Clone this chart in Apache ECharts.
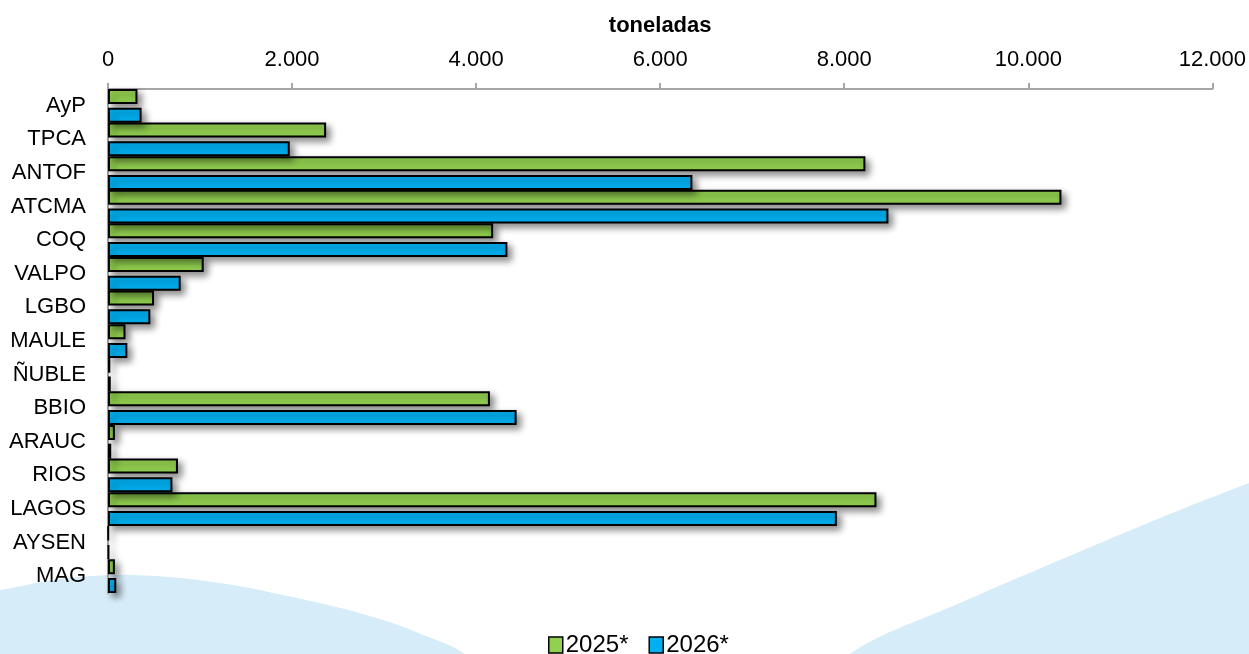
<!DOCTYPE html>
<html>
<head>
<meta charset="utf-8">
<script src="https://cdn.jsdelivr.net/npm/echarts@6/dist/echarts.min.js"></script>
<style>
  html, body { margin: 0; padding: 0; background: #fff; }
  #bar { width: 1249px; height: 654px; }
</style>
</head>
<body>
<div id="bar"></div>
<script>
const regiones = ["AyP", "TPCA", "ANTOF", "ATCMA", "COQ", "VALPO", "LGBO", "MAULE", "ÑUBLE", "BBIO", "ARAUC", "RIOS", "LAGOS", "AYSEN", "MAG"];
const datos2025 = [320, 2370, 8230, 10360, 4185, 1040, 500, 190, 25, 4150, 75, 760, 8350, 5, 75];
const datos2026 = [365, 1975, 6350, 8480, 4340, 790, 460, 210, 30, 4440, 35, 700, 7920, 10, 90];
const ticksX = [0, 2000, 4000, 6000, 8000, 10000, 12000];

const miles = v => String(v).replace(/\B(?=(\d{3})+(?!\d))/g, ".");

const sombra = {
  borderColor: "#000",
  borderWidth: 2,
  shadowColor: "rgba(0,0,0,0.45)",
  shadowBlur: 7,
  shadowOffsetX: 4,
  shadowOffsetY: 4,
};

let myChart = echarts.init(document.getElementById("bar"));
myChart.setOption({
  backgroundColor: "#fff",
  textStyle: { fontFamily: "Liberation Sans, Arial, sans-serif" },
  // fondo decorativo (olas celestes)
  graphic: [
    {
      type: "polygon",
      z: -10,
      silent: true,
      shape: {
        points: [[-60, 720], [-60, 598], [0, 590], [60, 579], [134, 575], [220, 583], [306, 600], [370, 616], [421, 634], [470, 658], [520, 720]],
        smooth: 0.35,
      },
      style: { fill: "#d6ecf8" },
    },
    {
      type: "polygon",
      z: -10,
      silent: true,
      shape: {
        points: [[800, 720], [850, 654], [960, 603], [1067, 557], [1160, 518], [1249, 483], [1320, 458], [1320, 720]],
        smooth: 0.3,
      },
      style: { fill: "#d6ecf8" },
    },
  ],
  grid: {
    left: 108,
    right: 36,
    top: 89,
    bottom: 61,
  },
  legend: {
    top: 633,
    left: 548,
    padding: 0,
    icon: "rect",
    itemWidth: 14,
    itemHeight: 16,
    itemGap: 20,
    textStyle: { fontSize: 24, color: "#000", padding: [0, 0, 0, -2] },
    itemStyle: { shadowBlur: 0, shadowOffsetX: 0, shadowOffsetY: 0, borderWidth: 1.5 },
    data: ["2025*", "2026*"],
  },
  xAxis: {
    type: "value",
    position: "top",
    min: ticksX[0],
    max: ticksX[ticksX.length - 1],
    interval: 2000,
    name: "toneladas",
    nameLocation: "middle",
    nameGap: 52,
    nameTextStyle: { color: "#000", fontWeight: "bold", fontSize: 22 },
    axisLine: { show: true, lineStyle: { color: "#a6a6a6", width: 2 } },
    axisTick: { show: true, length: 6, lineStyle: { color: "#a6a6a6", width: 2 } },
    splitLine: { show: false },
    axisLabel: {
      color: "#000",
      fontSize: 22,
      margin: 18,
      formatter: miles,
    },
  },
  yAxis: {
    type: "category",
    inverse: true,
    data: regiones,
    axisLine: { show: true, lineStyle: { color: "#a6a6a6", width: 2 } },
    axisTick: { show: false },
    axisLabel: { color: "#000", fontSize: 22, margin: 22, padding: [3, 0, 0, 0] },
  },
  series: [
    {
      name: "2025*",
      type: "bar",
      data: datos2025,
      barWidth: 15,
      barGap: "25%",
      itemStyle: Object.assign({ color: "#92d050" }, sombra),
    },
    {
      name: "2026*",
      type: "bar",
      data: datos2026,
      barWidth: 15,
      itemStyle: Object.assign({ color: "#00b0f0" }, sombra),
    },
  ],
});
window.onresize = function() {
  myChart.resize();
};
</script>
</body>
</html>
